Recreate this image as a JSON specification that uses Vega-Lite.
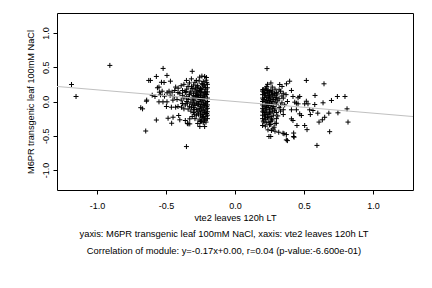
{
"$schema": "https://vega.github.io/schema/vega-lite/v6.json",
"width": 356, "height": 177,
"autosize": {"type": "none"},
"padding": {"left": 57, "top": 13, "right": 19, "bottom": 98},
"background": "white",
"config": {"view": {"stroke": "#000", "strokeWidth": 1}, "font": "Liberation Sans"},
"title": {"text": ["yaxis: M6PR transgenic leaf 100mM NaCl, xaxis: vte2 leaves 120h LT", "Correlation of module: y=-0.17x+0.00, r=0.04 (p-value:-6.600e-01)"], "orient": "bottom", "anchor": "middle", "fontSize": 9.4, "fontWeight": "normal", "lineHeight": 17, "offset": 8, "dx": -11, "color": "#000", "font": "Liberation Sans"},
"layer": [
{
"data": {"values": [
{"x":-0.907,"y":0.526},{"x":-1.185,"y":0.248},{"x":-1.152,"y":0.073},
{"x":-0.521,"y":0.482},{"x":-0.57,"y":0.365},{"x":-0.625,"y":0.307},{"x":-0.613,"y":0.307},{"x":-0.493,"y":0.38},{"x":-0.533,"y":0.28},{"x":-0.514,"y":0.277},{"x":-0.468,"y":0.296},{"x":-0.551,"y":0.21},{"x":-0.43,"y":0.21},{"x":-0.412,"y":0.194},
{"x":-0.528,"y":0.15},{"x":-0.492,"y":0.127},{"x":-0.478,"y":0.15},{"x":-0.456,"y":0.136},{"x":-0.437,"y":0.16},{"x":-0.413,"y":0.13},
{"x":-0.6,"y":0.092},{"x":-0.58,"y":0.073},{"x":-0.54,"y":0.098},{"x":-0.511,"y":0.078},{"x":-0.47,"y":0.09},{"x":-0.44,"y":0.07},
{"x":-0.642,"y":0.004},{"x":-0.551,"y":-0.005},{"x":-0.522,"y":-0.005},{"x":-0.493,"y":-0.005},{"x":-0.45,"y":0.02},{"x":-0.42,"y":0.03},
{"x":-0.497,"y":-0.073},{"x":-0.461,"y":-0.083},{"x":-0.43,"y":-0.083},{"x":-0.413,"y":-0.073},
{"x":-0.683,"y":-0.09},{"x":-0.67,"y":-0.107},{"x":-0.64,"y":0.02},{"x":-0.562,"y":0.2},{"x":-0.548,"y":0.136},
{"x":-0.57,"y":-0.27},{"x":-0.485,"y":-0.244},{"x":-0.449,"y":-0.229},{"x":-0.459,"y":-0.317},{"x":-0.4,"y":-0.267},{"x":-0.345,"y":-0.32},{"x":-0.647,"y":-0.43},
{"x":-0.31,"y":0.44},{"x":-0.24,"y":0.37},{"x":-0.22,"y":0.365},{"x":-0.256,"y":0.355},{"x":-0.207,"y":0.35},{"x":-0.352,"y":0.307},{"x":-0.316,"y":0.33},{"x":-0.28,"y":0.307},
{"x":-0.255,"y":-0.365},{"x":-0.22,"y":-0.365},{"x":-0.328,"y":-0.326},{"x":-0.243,"y":-0.287},{"x":-0.227,"y":-0.229},{"x":-0.352,"y":-0.657},
{"x":-0.388,"y":-0.083},{"x":-0.37,"y":-0.107},{"x":-0.408,"y":-0.204},{"x":-0.36,"y":-0.277},{"x":-0.328,"y":-0.253},{"x":-0.34,"y":-0.326},
{"x":-0.21,"y":0.31},{"x":-0.23,"y":0.29},{"x":-0.26,"y":0.30},{"x":-0.29,"y":0.28},{"x":-0.33,"y":0.27},{"x":-0.37,"y":0.25},
{"x":-0.20,"y":0.25},{"x":-0.22,"y":0.24},{"x":-0.24,"y":0.26},{"x":-0.27,"y":0.23},{"x":-0.30,"y":0.24},{"x":-0.34,"y":0.22},{"x":-0.39,"y":0.23},
{"x":-0.20,"y":0.20},{"x":-0.21,"y":0.18},{"x":-0.23,"y":0.21},{"x":-0.25,"y":0.19},{"x":-0.27,"y":0.20},{"x":-0.29,"y":0.17},{"x":-0.31,"y":0.19},{"x":-0.35,"y":0.18},{"x":-0.38,"y":0.16},
{"x":-0.20,"y":0.14},{"x":-0.22,"y":0.15},{"x":-0.24,"y":0.13},{"x":-0.26,"y":0.16},{"x":-0.28,"y":0.14},{"x":-0.30,"y":0.12},{"x":-0.32,"y":0.15},{"x":-0.36,"y":0.13},{"x":-0.40,"y":0.12},
{"x":-0.21,"y":0.10},{"x":-0.22,"y":0.08},{"x":-0.23,"y":0.11},{"x":-0.25,"y":0.09},{"x":-0.27,"y":0.10},{"x":-0.28,"y":0.07},{"x":-0.30,"y":0.09},{"x":-0.33,"y":0.10},{"x":-0.35,"y":0.07},{"x":-0.38,"y":0.09},
{"x":-0.20,"y":0.05},{"x":-0.22,"y":0.04},{"x":-0.24,"y":0.06},{"x":-0.25,"y":0.03},{"x":-0.27,"y":0.05},{"x":-0.29,"y":0.04},{"x":-0.31,"y":0.06},{"x":-0.34,"y":0.03},{"x":-0.37,"y":0.05},{"x":-0.39,"y":0.02},
{"x":-0.20,"y":0.00},{"x":-0.21,"y":-0.02},{"x":-0.23,"y":0.01},{"x":-0.24,"y":-0.01},{"x":-0.26,"y":0.00},{"x":-0.28,"y":-0.02},{"x":-0.30,"y":0.01},{"x":-0.32,"y":-0.01},{"x":-0.35,"y":0.00},{"x":-0.38,"y":-0.03},
{"x":-0.20,"y":-0.05},{"x":-0.22,"y":-0.06},{"x":-0.23,"y":-0.04},{"x":-0.25,"y":-0.07},{"x":-0.27,"y":-0.05},{"x":-0.29,"y":-0.06},{"x":-0.31,"y":-0.04},{"x":-0.33,"y":-0.07},{"x":-0.36,"y":-0.05},
{"x":-0.20,"y":-0.10},{"x":-0.21,"y":-0.12},{"x":-0.23,"y":-0.09},{"x":-0.24,"y":-0.11},{"x":-0.26,"y":-0.10},{"x":-0.28,"y":-0.12},{"x":-0.30,"y":-0.09},{"x":-0.34,"y":-0.11},
{"x":-0.20,"y":-0.15},{"x":-0.22,"y":-0.16},{"x":-0.24,"y":-0.14},{"x":-0.25,"y":-0.17},{"x":-0.27,"y":-0.15},{"x":-0.30,"y":-0.16},{"x":-0.32,"y":-0.14},
{"x":-0.20,"y":-0.20},{"x":-0.21,"y":-0.22},{"x":-0.23,"y":-0.19},{"x":-0.25,"y":-0.21},{"x":-0.28,"y":-0.20},{"x":-0.31,"y":-0.22},
{"x":-0.20,"y":-0.25},{"x":-0.22,"y":-0.26},{"x":-0.24,"y":-0.24},{"x":-0.26,"y":-0.27},{"x":-0.29,"y":-0.25},
{"x":-0.21,"y":-0.30},{"x":-0.23,"y":-0.31},{"x":-0.25,"y":-0.29},{"x":-0.27,"y":-0.32},
{"x":-0.215,"y":0.125},{"x":-0.235,"y":0.035},{"x":-0.255,"y":0.145},{"x":-0.265,"y":-0.035},{"x":-0.285,"y":0.085},{"x":-0.205,"y":-0.075},{"x":-0.245,"y":0.175},{"x":-0.225,"y":-0.135},{"x":-0.275,"y":0.225},{"x":-0.295,"y":-0.115},{"x":-0.215,"y":0.205},{"x":-0.235,"y":-0.215},{"x":-0.205,"y":0.275},{"x":-0.26,"y":0.055},{"x":-0.22,"y":-0.28},
{"x":-0.305,"y":0.035},{"x":-0.315,"y":-0.085},{"x":-0.325,"y":0.125},{"x":-0.285,"y":0.195},{"x":-0.265,"y":-0.185},{"x":-0.245,"y":-0.045},{"x":-0.225,"y":0.065},{"x":-0.205,"y":-0.175},{"x":-0.295,"y":-0.035},{"x":-0.335,"y":0.055},{"x":-0.345,"y":-0.025},{"x":-0.355,"y":0.145},{"x":-0.275,"y":0.125},{"x":-0.255,"y":-0.125},{"x":-0.235,"y":0.245},{"x":-0.215,"y":-0.025},{"x":-0.315,"y":0.215},{"x":-0.295,"y":-0.185},{"x":-0.265,"y":0.085},{"x":-0.205,"y":0.105},
{"x":0.232,"y":0.48},{"x":0.236,"y":0.25},{"x":0.26,"y":0.27},{"x":0.324,"y":0.248},{"x":0.341,"y":0.219},{"x":0.373,"y":0.258},{"x":0.396,"y":0.296},
{"x":0.517,"y":0.307},{"x":0.645,"y":0.258},{"x":0.58,"y":0.088},{"x":0.742,"y":0.073},{"x":0.797,"y":0.073},{"x":0.699,"y":0.015},{"x":0.638,"y":-0.019},{"x":0.578,"y":-0.044},{"x":0.517,"y":0.004},{"x":0.505,"y":-0.034},{"x":0.529,"y":-0.034},
{"x":0.812,"y":-0.107},{"x":0.746,"y":-0.165},{"x":0.68,"y":-0.17},{"x":0.60,"y":-0.17},{"x":0.546,"y":-0.19},{"x":0.65,"y":-0.23},{"x":0.633,"y":-0.267},{"x":0.609,"y":-0.3},{"x":0.819,"y":-0.3},{"x":0.505,"y":-0.35},{"x":0.522,"y":-0.41},{"x":0.686,"y":-0.44},{"x":0.449,"y":-0.35},{"x":0.425,"y":-0.46},{"x":0.425,"y":-0.51},{"x":0.594,"y":-0.64},
{"x":0.409,"y":0.161},{"x":0.42,"y":0.073},{"x":0.457,"y":0.054},{"x":0.469,"y":0.073},{"x":0.433,"y":-0.01},{"x":0.445,"y":-0.025},{"x":0.457,"y":-0.034},{"x":0.409,"y":-0.121},{"x":0.445,"y":-0.121},{"x":0.541,"y":-0.121},{"x":0.565,"y":-0.131},{"x":0.469,"y":-0.18},{"x":0.481,"y":-0.204},{"x":0.409,"y":-0.253},{"x":0.42,"y":-0.277},
{"x":0.239,"y":-0.413},{"x":0.264,"y":-0.423},{"x":0.283,"y":-0.375},{"x":0.317,"y":-0.448},{"x":0.348,"y":-0.463},{"x":0.372,"y":-0.482},{"x":0.372,"y":-0.56},{"x":0.3,"y":-0.317},
{"x":0.246,"y":-0.3},{"x":0.259,"y":-0.336},{"x":0.275,"y":-0.4},{"x":0.29,"y":-0.433},{"x":0.246,"y":-0.51},{"x":0.259,"y":-0.51},{"x":0.355,"y":-0.47},{"x":0.38,"y":-0.57},{"x":0.428,"y":-0.52},
{"x":0.23,"y":0.22},{"x":0.27,"y":0.21},
{"x":0.20,"y":0.17},{"x":0.22,"y":0.18},{"x":0.24,"y":0.17},{"x":0.26,"y":0.16},{"x":0.29,"y":0.18},{"x":0.32,"y":0.17},
{"x":0.20,"y":0.15},{"x":0.21,"y":0.13},{"x":0.23,"y":0.16},{"x":0.25,"y":0.14},{"x":0.27,"y":0.15},{"x":0.30,"y":0.13},{"x":0.33,"y":0.15},{"x":0.35,"y":0.12},
{"x":0.20,"y":0.10},{"x":0.22,"y":0.09},{"x":0.24,"y":0.11},{"x":0.25,"y":0.08},{"x":0.27,"y":0.10},{"x":0.29,"y":0.09},{"x":0.31,"y":0.11},{"x":0.34,"y":0.08},{"x":0.37,"y":0.10},
{"x":0.20,"y":0.05},{"x":0.21,"y":0.03},{"x":0.23,"y":0.06},{"x":0.24,"y":0.04},{"x":0.26,"y":0.05},{"x":0.28,"y":0.03},{"x":0.30,"y":0.06},{"x":0.32,"y":0.04},{"x":0.35,"y":0.05},
{"x":0.20,"y":0.00},{"x":0.22,"y":-0.01},{"x":0.23,"y":0.01},{"x":0.25,"y":-0.02},{"x":0.27,"y":0.00},{"x":0.29,"y":-0.01},{"x":0.31,"y":0.01},{"x":0.34,"y":-0.02},{"x":0.38,"y":0.00},
{"x":0.20,"y":-0.05},{"x":0.21,"y":-0.07},{"x":0.23,"y":-0.04},{"x":0.24,"y":-0.06},{"x":0.26,"y":-0.05},{"x":0.28,"y":-0.07},{"x":0.30,"y":-0.04},{"x":0.33,"y":-0.06},{"x":0.36,"y":-0.05},
{"x":0.20,"y":-0.10},{"x":0.22,"y":-0.11},{"x":0.23,"y":-0.09},{"x":0.25,"y":-0.12},{"x":0.27,"y":-0.10},{"x":0.29,"y":-0.11},{"x":0.32,"y":-0.09},{"x":0.35,"y":-0.12},
{"x":0.20,"y":-0.15},{"x":0.21,"y":-0.16},{"x":0.23,"y":-0.14},{"x":0.25,"y":-0.17},{"x":0.27,"y":-0.15},{"x":0.30,"y":-0.16},{"x":0.33,"y":-0.14},
{"x":0.20,"y":-0.20},{"x":0.22,"y":-0.21},{"x":0.24,"y":-0.19},{"x":0.26,"y":-0.22},{"x":0.28,"y":-0.20},{"x":0.31,"y":-0.21},{"x":0.35,"y":-0.19},
{"x":0.20,"y":-0.25},{"x":0.22,"y":-0.26},{"x":0.24,"y":-0.24},{"x":0.27,"y":-0.27},{"x":0.30,"y":-0.25},
{"x":0.21,"y":-0.30},{"x":0.23,"y":-0.31},{"x":0.26,"y":-0.29},{"x":0.29,"y":-0.32},
{"x":0.20,"y":-0.35},{"x":0.22,"y":-0.36},{"x":0.25,"y":-0.34},
{"x":0.215,"y":0.115},{"x":0.235,"y":-0.025},{"x":0.205,"y":0.175},{"x":0.245,"y":-0.085},{"x":0.265,"y":0.125},{"x":0.215,"y":-0.185},{"x":0.255,"y":0.025},{"x":0.225,"y":0.195},{"x":0.285,"y":-0.135},{"x":0.205,"y":-0.285},{"x":0.275,"y":0.065},{"x":0.235,"y":-0.235},
{"x":0.215,"y":0.065},{"x":0.225,"y":-0.065},{"x":0.245,"y":0.085},{"x":0.265,"y":-0.035},{"x":0.285,"y":0.115},{"x":0.205,"y":-0.125},{"x":0.235,"y":0.135},{"x":0.255,"y":-0.155},{"x":0.275,"y":-0.075},{"x":0.295,"y":0.035},{"x":0.215,"y":-0.225},{"x":0.245,"y":0.015},{"x":0.265,"y":-0.255},{"x":0.205,"y":0.025},{"x":0.225,"y":-0.165}
]},
"mark": {"type": "point", "shape": "M-1,0L1,0M0,-1L0,1", "filled": false, "stroke": "#000", "strokeWidth": 1, "size": 25, "opacity": 1},
"encoding": {
"x": {"field": "x", "type": "quantitative", "scale": {"domain": [-1.29, 1.29], "nice": false, "zero": false},
"axis": {"values": [-1, -0.5, 0, 0.5, 1], "labelExpr": "datum.value < 0 ? '-' + format(-datum.value, '.1f') : format(datum.value, '.1f')", "tickSize": 4, "tickColor": "#000", "labelPadding": 7, "domain": false, "grid": false, "labelFontSize": 9, "labelColor": "#000", "labelFont": "Liberation Sans", "title": "vte2 leaves 120h LT", "titleFontSize": 9.2, "titleFontWeight": "normal", "titleColor": "#000", "titleFont": "Liberation Sans", "titlePadding": 3}},
"y": {"field": "y", "type": "quantitative", "scale": {"domain": [-1.29, 1.29], "nice": false, "zero": false},
"axis": {"values": [-1, -0.5, 0, 0.5, 1], "labelExpr": "datum.value < 0 ? '-' + format(-datum.value, '.1f') : format(datum.value, '.1f')", "tickSize": 4, "tickColor": "#000", "labelPadding": 3, "labelAngle": 270, "labelAlign": "center", "labelBaseline": "bottom", "domain": false, "grid": false, "labelFontSize": 9, "labelColor": "#000", "labelFont": "Liberation Sans", "title": "M6PR transgenic leaf 100mM NaCl", "titleFontSize": 9.2, "titleFontWeight": "normal", "titleColor": "#000", "titleFont": "Liberation Sans", "titlePadding": 6}}
}
},
{
"data": {"values": [{"x": -1.29, "y": 0.2193}, {"x": 1.29, "y": -0.2193}]},
"mark": {"type": "line", "color": "#c0c0c0", "strokeWidth": 1},
"encoding": {"x": {"field": "x", "type": "quantitative"}, "y": {"field": "y", "type": "quantitative"}}
}
]
}
